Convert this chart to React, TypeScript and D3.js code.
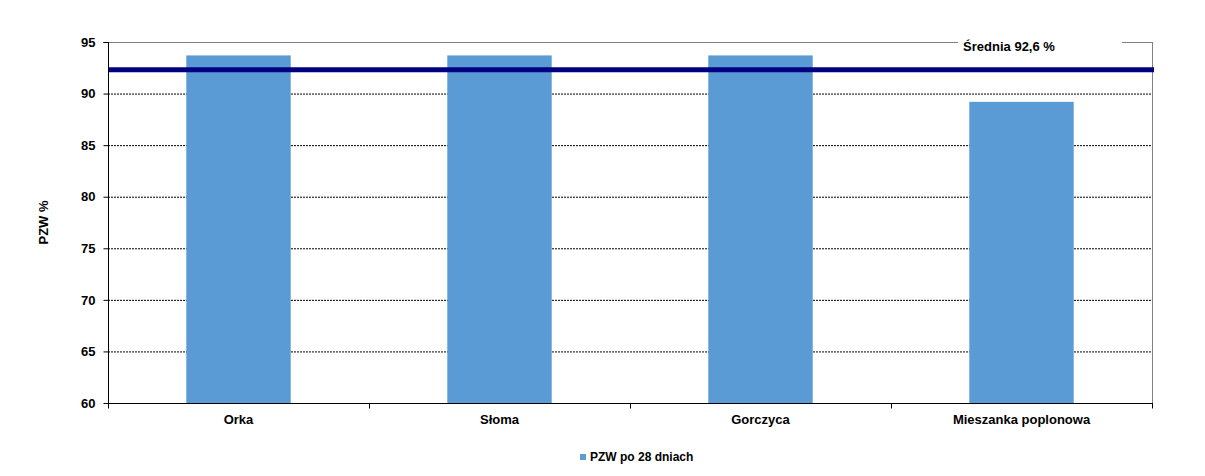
import React, { useEffect, useRef } from "react";
import * as d3 from "d3";

const categories = ["Orka", "Słoma", "Gorczyca", "Mieszanka poplonowa"];
const values = [93.7, 93.7, 93.7, 89.2];
const meanValue = 92.3;
const meanLabel = "Średnia 92,6 %";
const yTicks = [60, 65, 70, 75, 80, 85, 90, 95];
const seriesName = "PZW po 28 dniach";
const yTitle = "PZW %";

const W = 1205, H = 476;
const M = { left: 108, right: 1152, top: 42, bottom: 403 };

export default function App() {
  const ref = useRef<SVGSVGElement>(null);
  useEffect(() => {
    const svg = d3.select(ref.current);
    svg.selectAll("*").remove();
    const font = "Arial, 'Liberation Sans', sans-serif";
    const x = d3.scaleBand().domain(categories).range([M.left, M.right]).paddingInner(0.6).paddingOuter(0.3);
    const band = d3.scaleBand().domain(categories).range([M.left, M.right]);
    const y = d3.scaleLinear().domain([60, 95]).range([M.bottom, M.top]);

    // gridlines
    svg.append("g").selectAll("line").data(yTicks.filter(t => t > 60 && t < 95)).join("line")
      .attr("x1", M.left).attr("x2", M.right)
      .attr("y1", d => y(d) + 0.5).attr("y2", d => y(d) + 0.5)
      .attr("stroke", "#000").attr("stroke-width", 1).attr("stroke-dasharray", "2,1");

    // top and right border
    svg.append("line").attr("x1", M.left).attr("x2", M.right).attr("y1", M.top + 0.5).attr("y2", M.top + 0.5).attr("stroke", "#808080");
    svg.append("line").attr("x1", M.right + 0.5).attr("x2", M.right + 0.5).attr("y1", M.top).attr("y2", M.bottom).attr("stroke", "#808080");

    // bars
    svg.append("g").selectAll("rect").data(values).join("rect")
      .attr("x", (_, i) => x(categories[i])!)
      .attr("width", x.bandwidth())
      .attr("y", d => y(d))
      .attr("height", d => y(60) - y(d))
      .attr("fill", "#5B9BD5");

    // mean line
    svg.append("line").attr("x1", M.left).attr("x2", M.right + 2)
      .attr("y1", y(meanValue)).attr("y2", y(meanValue))
      .attr("stroke", "#000080").attr("stroke-width", 5);

    // mean label box
    svg.append("rect").attr("x", 958).attr("y", 36).attr("width", 164).attr("height", 22).attr("fill", "#fff");
    svg.append("text").attr("x", 1009).attr("y", 51).attr("text-anchor", "middle")
      .attr("font-family", font).attr("font-weight", "bold").attr("font-size", 13).text(meanLabel);

    // y axis
    const yAxis = svg.append("g").attr("transform", `translate(${M.left + 0.5},0)`)
      .call(d3.axisLeft(y).tickValues(yTicks).tickSize(5).tickPadding(8).tickFormat(d3.format("d")));
    yAxis.select(".domain").attr("stroke", "#000").attr("d", `M-5,${M.top + 0.5}H0V${M.bottom + 0.5}`);
    yAxis.selectAll("line").attr("stroke", "#000");
    yAxis.selectAll("text").attr("font-family", font).attr("font-weight", "bold").attr("font-size", 13).attr("fill", "#000");

    // x axis
    const xg = svg.append("g").attr("transform", `translate(0,${M.bottom + 0.5})`);
    xg.append("line").attr("x1", M.left).attr("x2", M.right + 1).attr("stroke", "#000");
    const bounds = [...categories.map(c => band(c)!), M.right];
    xg.selectAll("line.t").data(bounds).join("line").attr("class", "t")
      .attr("x1", d => Math.round(d) + 0.5).attr("x2", d => Math.round(d) + 0.5).attr("y1", 0).attr("y2", 5).attr("stroke", "#000");
    xg.selectAll("text").data(categories).join("text")
      .attr("x", d => band(d)! + band.bandwidth() / 2).attr("y", 20)
      .attr("text-anchor", "middle").attr("font-family", font).attr("font-weight", "bold").attr("font-size", 13)
      .text(d => d);

    // y title
    svg.append("text").attr("transform", `translate(48,${(M.top + M.bottom) / 2}) rotate(-90)`)
      .attr("text-anchor", "middle").attr("font-family", font).attr("font-weight", "bold").attr("font-size", 13).text(yTitle);

    // legend
    svg.append("rect").attr("x", 580).attr("y", 454).attr("width", 6).attr("height", 6).attr("fill", "#5B9BD5");
    svg.append("text").attr("x", 590).attr("y", 461).attr("font-family", font).attr("font-weight", "bold").attr("font-size", 12).text(seriesName);
  }, []);
  return (
    <svg ref={ref} width={W} height={H} style={{ position: "absolute", left: 0, top: 0, background: "#fff" }} />
  );
}
